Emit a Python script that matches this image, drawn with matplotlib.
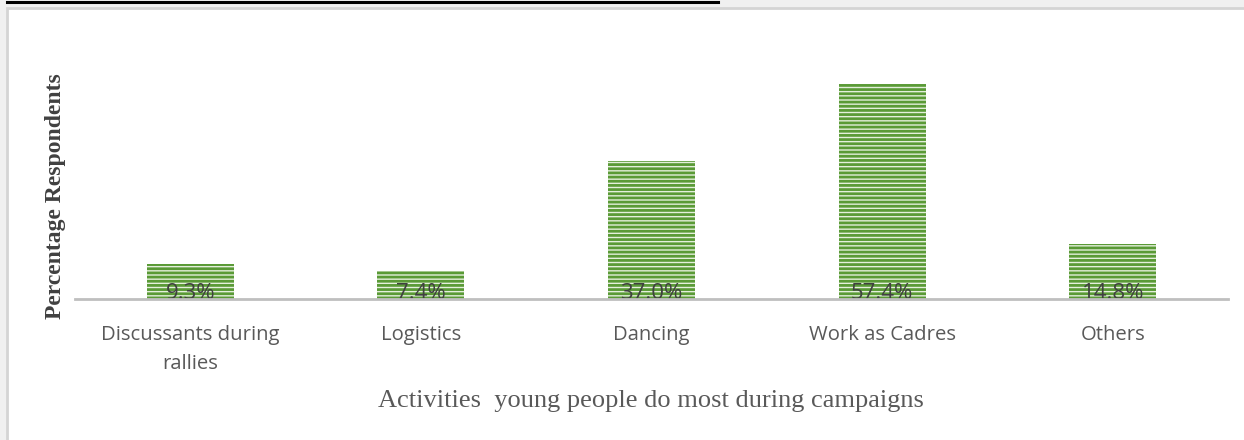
import matplotlib
matplotlib.use("Agg")
import matplotlib.pyplot as plt
from matplotlib.patches import Rectangle
from matplotlib.lines import Line2D

categories = ["Discussants during\nrallies", "Logistics", "Dancing", "Work as Cadres", "Others"]
values = [9.3, 7.4, 37.0, 57.4, 14.8]

W, H = 1244, 440
plt.rcParams["hatch.linewidth"] = 2.0

fig = plt.figure(figsize=(W / 100, H / 100), dpi=100, facecolor="#f0f0f0")

# white chart area with a light grey frame on the left and top
fig.patches.append(Rectangle((7 / W, -0.1), 1.2, 1.1 - 8 / H, transform=fig.transFigure,
                             facecolor="white", edgecolor="#d4d4d4", linewidth=2, zorder=-5))
# underline of the caption line above the chart
fig.lines.append(Line2D([7 / W, 718 / W], [1 - 2.5 / H, 1 - 2.5 / H], transform=fig.transFigure,
                        color="black", linewidth=2.2))

scale = 3.74  # pixels per percentage point
ymax = 70
ax_left, ax_right = 75, 1228
base = 299
ax = fig.add_axes([ax_left / W, (H - base) / H, (ax_right - ax_left) / W, ymax * scale / H])
ax.set_facecolor("none")
ax.set_zorder(2)

x = range(len(categories))
bars = ax.bar(x, values, width=0.377, facecolor="#e4efdc", edgecolor="#5a9a36",
              hatch="----", linewidth=0, zorder=2)

for xi, v in zip(x, values):
    ax.annotate(f"{v:.1f}%", xy=(xi, 0), xytext=(0, 4), textcoords="offset points",
                ha="center", va="center", fontsize=16, color="#404040",
                family="Open Sans", zorder=3)

ax.set_xlim(-0.5, len(categories) - 0.5)
ax.set_ylim(0, ymax)
for s in ["top", "right", "left"]:
    ax.spines[s].set_visible(False)
ax.spines["bottom"].set_color("#bfbfbf")
ax.spines["bottom"].set_linewidth(2)
ax.spines["bottom"].set_zorder(4)
ax.set_yticks([])
ax.set_xticks(list(x))
ax.set_xticklabels(categories, family="Open Sans", fontsize=14.6, color="#595959",
                   linespacing=1.6)
ax.tick_params(axis="x", length=0, pad=19)

fig.text(651 / W, 1 - 401 / H, "Activities  young people do most during campaigns",
         ha="center", va="center", family="Liberation Serif", fontsize=19, color="#595959")
fig.text(55 / W, 1 - 196 / H, "Percentage Respondents", rotation=90, ha="center", va="center",
         family="Liberation Serif", fontsize=17, fontweight="bold", color="#404040")

fig.savefig("out.png", dpi=100, facecolor=fig.get_facecolor())
